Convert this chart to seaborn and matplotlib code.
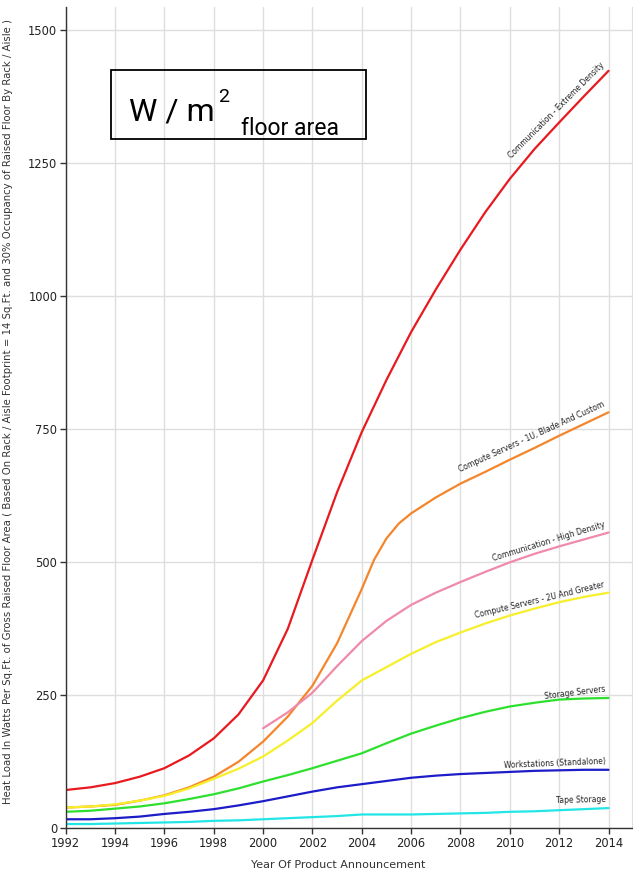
import matplotlib
matplotlib.use('Agg')
import matplotlib.pyplot as plt
import seaborn as sns
import pandas as pd
from matplotlib.patches import Rectangle

# values (W / m2 floor area)
years = list(range(1992, 2015))
years_high = list(range(2000, 2015))
years_1u = [1992, 1993, 1994, 1995, 1996, 1997, 1998, 1999, 2000, 2001, 2002,
            2003, 2004, 2004.5, 2005, 2005.5, 2006, 2007, 2008, 2009, 2010,
            2011, 2012, 2013, 2014]

comm_extreme = [72, 77, 85, 97, 113, 137, 169, 214, 278, 375, 505, 632, 745,
                843, 933, 1013, 1088, 1158, 1221, 1277, 1327, 1376, 1424]
compute_1u = [39, 41, 44, 52, 62, 77, 97, 125, 163, 210, 268, 348, 450,
              505, 545, 573, 592, 622, 648, 670, 693, 715, 738, 760, 782]
comm_high = [188, 218, 255, 305, 352, 390, 420, 443, 463, 482, 500, 516,
             530, 543, 556]
compute_2u = [39, 41, 45, 52, 61, 75, 93, 112, 135, 165, 198, 240, 278,
              303, 328, 350, 368, 385, 400, 413, 425, 435, 443]
storage = [31, 33, 37, 41, 47, 55, 64, 75, 88, 100, 113, 127, 141,
           160, 178, 193, 207, 219, 229, 236, 242, 244, 245]
workstations = [17, 17, 19, 22, 27, 31, 36, 43, 51, 60, 69, 77, 83,
                89, 95, 99, 102, 104, 106, 108, 109, 110, 110]
tape = [8, 8, 9, 10, 11, 12, 14, 15, 17, 19, 21, 23, 26,
        26, 26, 27, 28, 29, 31, 32, 34, 36, 38]

series = [
    ("Communication - Extreme Density", years, comm_extreme, "#e8191f", 45),
    ("Compute Servers - 1U, Blade And Custom", years_1u, compute_1u, "#f5852a", 24.5),
    ("Communication - High Density", years_high, comm_high, "#f08aaa", 17),
    ("Compute Servers - 2U And Greater", years, compute_2u, "#f6ef2a", 13.5),
    ("Storage Servers", years, storage, "#2ee02e", 7),
    ("Workstations (Standalone)", years, workstations, "#1c1cc8", 2.4),
    ("Tape Storage", years, tape, "#22e6e6", 1.2),
]

frames = []
for name, xs, ys, _, _ in series:
    frames.append(pd.DataFrame({"year": xs, "load": ys, "serie": name}))
df = pd.concat(frames, ignore_index=True)
palette = {s[0]: s[3] for s in series}

sns.set_style("white")
plt.rcParams['font.family'] = ['DejaVu Sans']

fig = plt.figure(figsize=(6.33, 8.73), dpi=100)
ax = fig.add_axes([0.1038, 0.0512, 0.8946, 0.9408])

sns.lineplot(data=df, x="year", y="load", hue="serie", palette=palette,
             linewidth=1.6, legend=False, ax=ax)

ax.set_xlim(1992, 2014.95)
ax.set_ylim(0, 1544)
ax.set_xticks(range(1992, 2015, 2))
ax.set_yticks([0, 250, 500, 750, 1000, 1250, 1500])
ax.grid(True, color="#dedede", linewidth=1.0)
ax.set_axisbelow(True)

for side in ["left", "bottom"]:
    ax.spines[side].set_color("#333333")
    ax.spines[side].set_linewidth(1.0)
ax.spines["top"].set_visible(False)
ax.spines["right"].set_color("#dedede")
ax.tick_params(axis="both", direction="out", length=4, width=1,
               color="#333333", labelsize=8.3, labelcolor="#222222", pad=2,
               left=True, bottom=True)

ax.set_xlabel("Year Of Product Announcement", fontsize=8.0, color="#333333")
ax.xaxis.set_label_coords(0.481, -0.039)
ax.set_ylabel("Heat Load In Watts Per Sq.Ft. of Gross Raised Floor Area ( Based On Rack / Aisle "
              "Footprint = 14 Sq.Ft. and 30% Occupancy of Raised Floor By Rack / Aisle )",
              fontsize=7.3, color="#333333")
ax.yaxis.set_label_coords(-0.093, 0.507)

# series labels along the line ends
for name, xs, ys, _, rot in series:
    ax.annotate(name, xy=(xs[-1], ys[-1]), xytext=(-2, 3),
                textcoords="offset points", ha="right", va="bottom",
                rotation=rot, rotation_mode="anchor", fontsize=5.5,
                color="#222222")

# boxed unit caption
fig.patches.append(Rectangle((0.1754, 0.8408), 0.4028, 0.079,
                             transform=fig.transFigure, fill=False,
                             edgecolor="black", linewidth=1.3))
fam = ["Roboto", "DejaVu Sans"]
t1 = fig.text(0.2038, 0.8625, "W / m", fontsize=23, family=fam,
              color="black", va="baseline")
fig.canvas.draw()
bb = t1.get_window_extent().transformed(fig.transFigure.inverted())
t2 = fig.text(bb.x1 + 0.006, 0.8835, "2", fontsize=14, family=fam,
              color="black", va="baseline")
fig.canvas.draw()
bb2 = t2.get_window_extent().transformed(fig.transFigure.inverted())
fig.text(bb2.x1 + 0.018, 0.8454, "floor area", fontsize=16.5, family=fam,
         color="black", va="baseline")

fig.savefig("out.png", dpi=100)
